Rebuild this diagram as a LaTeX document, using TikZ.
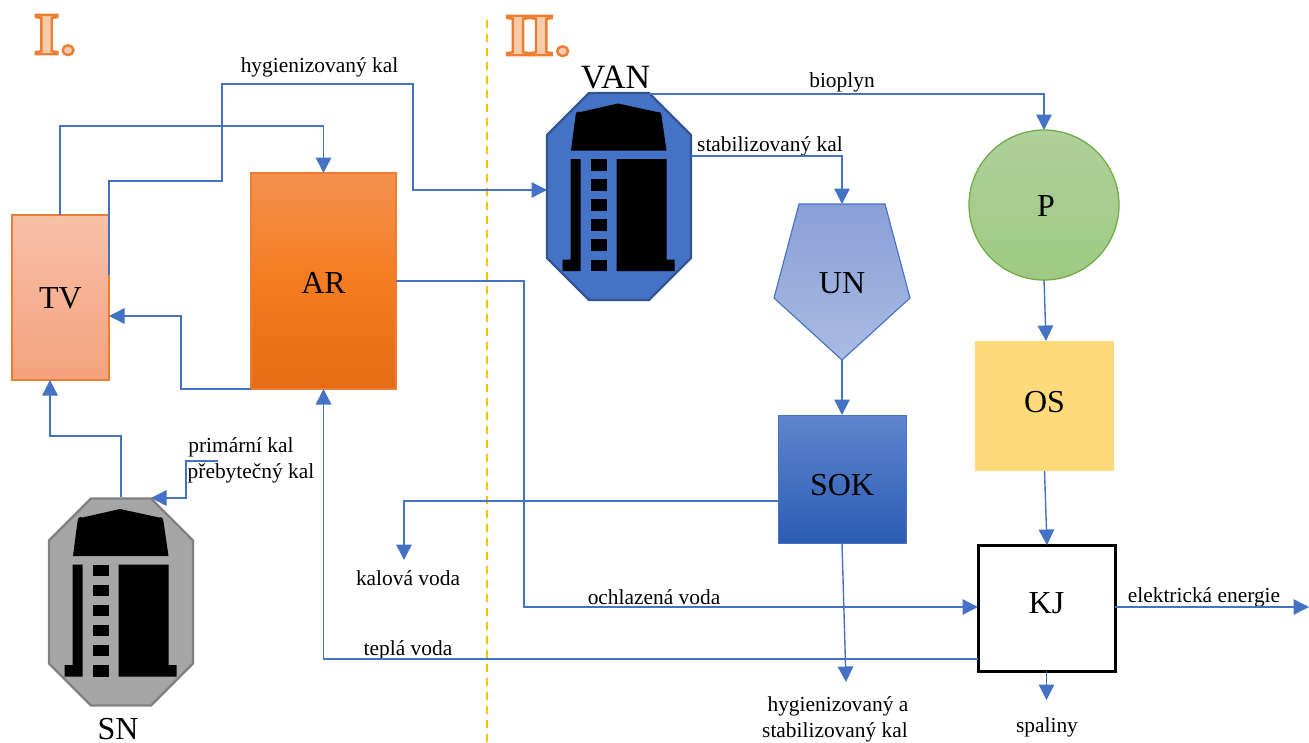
\documentclass[tikz,border=0pt]{standalone}
\usepackage{fontspec}
\setmainfont{Liberation Serif}
\newfontfamily\numfont[FakeStretch=1.12]{Liberation Serif}
\usetikzlibrary{arrows.meta,calc}
\definecolor{flowblue}{HTML}{4472C4}
\definecolor{numor}{HTML}{ED7D31}
\definecolor{numlt}{HTML}{F8CBAD}
\definecolor{tvtop}{HTML}{F8C0A8}
\definecolor{tvbot}{HTML}{F4A27E}
\definecolor{artop}{HTML}{F4914F}
\definecolor{armid}{HTML}{F57C20}
\definecolor{arbot}{HTML}{E56B15}
\definecolor{untop}{HTML}{8A9FD7}
\definecolor{unbot}{HTML}{A9BCE3}
\definecolor{ptop}{HTML}{AED09A}
\definecolor{pbot}{HTML}{9FCA82}
\definecolor{pline}{HTML}{70AD47}
\definecolor{osfill}{HTML}{FFDA7A}
\definecolor{soktop}{HTML}{5F85CE}
\definecolor{sokbot}{HTML}{2C5CB4}
\definecolor{divcol}{HTML}{FFC000}
\tikzset{
  flow/.style={draw=flowblue,line width=1.4pt,-{Triangle[length=15.5pt,width=15.5pt]}},
  big/.style={font=\fontsize{32}{34}\selectfont,inner sep=0pt},
  lab/.style={font=\fontsize{21.4}{26}\selectfont,inner sep=0pt,align=center},
  box/.style={inner sep=0pt,outer sep=0pt,font=\fontsize{32}{34}\selectfont,text height=0pt,text depth=0pt},
  tankarea/.style={inner sep=0pt,outer sep=0pt,minimum width=144pt,minimum height=207pt},
  numeral/.style={inner sep=0pt,text=numlt,font=\numfont\bfseries\fontsize{60}{62}\selectfont},
}
\newcommand{\tanksym}[4]{% x y fill stroke
  \begin{scope}[shift={(#1,#2)}]
    \fill[#3] (42,0) -- (102,0) -- (144,42) -- (144,165) -- (102,207) -- (42,207) -- (0,165) -- (0,42) -- cycle;
    \draw[#4,line width=2.2pt,line join=miter] (42,0) -- (102,0) -- (144,42) -- (144,165) -- (102,207) -- (42,207) -- (0,165) -- (0,42) -- cycle;
    \fill[black] (24,57.5) -- (28.5,23) .. controls (29,19) and (30,18) .. (33.5,19) -- (71,10.5) -- (110,19) .. controls (113,18) and (114,20) .. (114.5,23) -- (119.5,57.5) -- cycle;
    \fill[black] (23.5,66) -- (33.5,66) -- (33.5,178) -- (15.5,178) -- (15.5,166.5) -- (23.5,166.5) -- cycle;
    \fill[black] (69.5,66) -- (119.5,66) -- (119.5,166.5) -- (127.5,166.5) -- (127.5,178) -- (69.5,178) -- cycle;
    \foreach \yy in {66,86,106,126,146,166.5}{
      \fill[black] (43.5,\yy) rectangle (59.5,\yy+11.5);
    }
  \end{scope}
}
\newcommand{\outlined}[1]{\special{pdf:code 2 Tr 2.4 w 0.929 0.49 0.192 RG}#1\special{pdf:code 0 Tr}}
\begin{document}
\begin{tikzpicture}[x=1pt,y=-1pt]
\useasboundingbox (0,0) rectangle (1309,742);
% divider
\coordinate (divtop) at (487,20);
\coordinate (divbot) at (487,742);
\draw[draw=divcol,line width=1.8pt,dash pattern=on 8pt off 6pt] (divtop) -- (divbot);
% section numerals
\node[numeral] (numI) at (55,35) {\outlined{I.}};
\node[numeral] (numII) at (538,36) {\outlined{I\kern-3pt I.}};
% boxes
\node[box,draw=numor,line width=1.2pt,top color=tvtop,bottom color=tvbot,minimum width=97pt,minimum height=165pt] (TV) at (60.5,297.5) {\raisebox{-11pt}{TV}};
\node[box,draw=numor,line width=1.2pt,top color=artop,bottom color=arbot,middle color=armid,minimum width=145pt,minimum height=216pt] (AR) at (323.5,281) {\raisebox{-12.5pt}{AR}};
\node[tankarea] (VAN) at (619,196.5) {};
\tanksym{547}{93}{flowblue}{flowblue!75!black}
\node[big,font=\fontsize{34}{36}\selectfont] (VANlab) at (615.5,78) {VAN};
\node[tankarea] (SN) at (121,602) {};
\tanksym{49}{498.5}{black!35}{black!50}
\node[big,anchor=base,text depth=0pt] (SNlab) at (118,739) {SN};
\coordinate (SNgate) at (151,498);
\fill[bottom color=unbot,top color=untop] (799,204) -- (885,204) -- (910,298) -- (842,360) -- (774,298) -- cycle;
\draw[draw=flowblue,line width=1.1pt] (799,204) -- (885,204) -- (910,298) -- (842,360) -- (774,298) -- cycle;
\node[big] (UNlab) at (842,283) {UN};
\coordinate (UNtop) at (842,204);
\coordinate (UNbot) at (842,360);
\node[circle,box,draw=pline,line width=1.3pt,top color=ptop,bottom color=pbot,minimum size=150pt] (P) at (1044,205) {\raisebox{-11.5pt}{\hspace*{4pt}P}};
\node[box,fill=osfill,minimum width=139pt,minimum height=130pt] (OS) at (1044.5,406) {\raisebox{-6pt}{OS}};
\node[box,draw=flowblue,line width=1pt,top color=soktop,bottom color=sokbot,minimum width=128pt,minimum height=128pt] (SOK) at (842,479) {\raisebox{-16.5pt}{SOK}};
\node[box,draw=black,line width=3pt,fill=white,minimum width=137pt,minimum height=126pt] (KJ) at (1046.5,608) {\raisebox{-5.5pt}{KJ}};
% text labels
\node[lab] (l1) at (319.5,67) {hygienizovaný kal};
\node[lab] (l2) at (842,82) {bioplyn};
\node[lab] (l3) at (770,146) {stabilizovaný kal};
\node[lab] (l4) at (241,447) {primární kal};
\node[lab] (l5) at (251,473) {přebytečný kal};
\node[lab] (l6) at (408,578) {kalová voda};
\node[lab] (l7) at (654,597) {ochlazená voda};
\node[lab] (l8) at (408,650) {teplá voda};
\node[lab] (l9) at (835,719) {\hspace*{6pt}hygienizovaný a\\stabilizovaný kal};
\node[lab] (l10) at (1047,727) {spaliny};
\node[lab] (l11) at (1204,597) {elektrická energie};
\coordinate (out) at (1309,607);
\coordinate (TVin) at (50,380);
% connectors
\draw[flow] ([xshift=-0.5pt]TV.north) -- ++(0,-89) -| (AR.north);
\draw[flow] ([yshift=22.5pt]TV.east) -- ++(0,-94) -- ++(113,0) -- ++(0,-97) -- ++(191,0) |- ([yshift=6.5pt]VAN.west);
\draw[flow] (AR.south west) -- ++(-70,0) |- ([yshift=-18.5pt]TV.east);
\draw[flow] (121,497) -- ++(0,-61) -| (TVin);
\draw[flow] (218,461) -- ++(-32,0) |- (SNgate);
\draw[flow] (AR.east) -- ++(128,0) |- ([yshift=1pt]KJ.west);
\draw[flow] ([yshift=-51pt]KJ.west) -| (AR.south);
\draw[flow] (649,94) -- ++(395,0) -- (P.north);
\draw[flow] (691,156) -| (UNtop);
\draw[flow] (UNbot) -- (SOK.north);
\draw[flow] ([yshift=-22pt]SOK.west) -- ++(-374,0) -- ++(0,59);
\draw[flow] (SOK.south) -- (846,682);
\draw[flow] (P.south) -- (1046,341);
\draw[flow] (OS.south) -- ([xshift=0.5pt]KJ.north);
\draw[flow] ([yshift=1pt]KJ.east) -- (out);
\draw[flow] (KJ.south) -- ++(0,29);
\end{tikzpicture}
\end{document}
